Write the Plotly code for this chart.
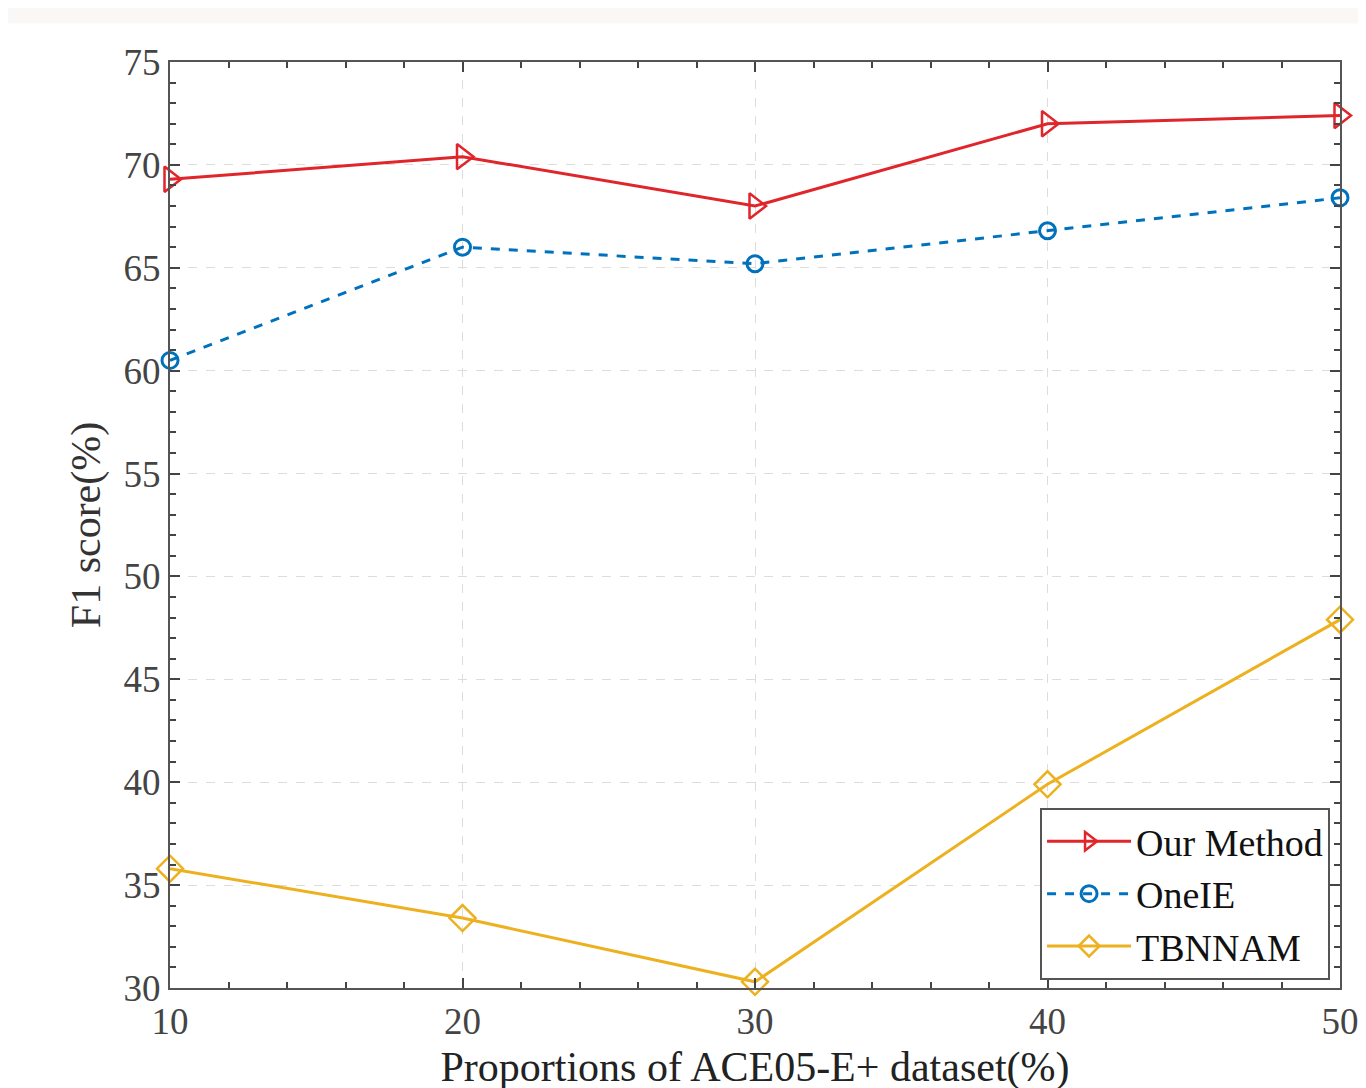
import plotly.graph_objects as go

proportions = [10, 20, 30, 40, 50]
our_method = [69.3, 70.4, 68.0, 72.0, 72.4]
oneie = [60.5, 66.0, 65.2, 66.8, 68.4]
tbnnam = [35.8, 33.4, 30.3, 39.9, 47.9]

x_ticks = [10, 20, 30, 40, 50]
y_ticks = [30, 35, 40, 45, 50, 55, 60, 65, 70, 75]

FONT = "Liberation Serif"

fig = go.Figure()
fig.add_trace(go.Scatter(
    x=proportions, y=our_method, name="Our Method", mode="lines+markers",
    line=dict(color="#E0252B", width=3),
    marker=dict(symbol="triangle-right-open", size=22, color="#E0252B", line=dict(width=2.5)),
    cliponaxis=False))
fig.add_trace(go.Scatter(
    x=proportions, y=oneie, name="OneIE", mode="lines+markers",
    line=dict(color="#0072BD", width=3, dash="dash"),
    marker=dict(symbol="circle-open", size=16, color="#0072BD", line=dict(width=3)),
    cliponaxis=False))
fig.add_trace(go.Scatter(
    x=proportions, y=tbnnam, name="TBNNAM", mode="lines+markers",
    line=dict(color="#EDB120", width=3),
    marker=dict(symbol="diamond-open", size=20, color="#EDB120", line=dict(width=2.5)),
    cliponaxis=False))

fig.add_shape(type="rect", xref="paper", yref="paper", x0=-0.2, x1=1.1, y0=1.0415, y1=1.1,
              fillcolor="#FAF7F7", line=dict(width=0), layer="below")

axis_common = dict(
    showline=True, linecolor="#555555", linewidth=2, mirror="ticks",
    ticks="inside", ticklen=10, tickwidth=1.5, tickcolor="#444444",
    showgrid=True, gridcolor="#DDDDDD", griddash="dash", gridwidth=1,
    zeroline=False,
    tickfont=dict(family=FONT, size=37, color="#444444"),
)

fig.update_xaxes(range=[10, 50], tickvals=x_ticks, **axis_common,
                 minor=dict(dtick=2, ticks="inside", ticklen=6, tickcolor="#444444", showgrid=False),
                 title=dict(text="Proportions of ACE05-E+ dataset(%)", font=dict(family=FONT, size=42, color="#222222"), standoff=10))
fig.update_yaxes(range=[30, 75], tickvals=y_ticks, **axis_common,
                 minor=dict(dtick=1, ticks="inside", ticklen=6, tickcolor="#444444", showgrid=False),
                 title=dict(text="F1 score(%)", font=dict(family=FONT, size=42, color="#333333"), standoff=10))

fig.update_layout(
    width=1366, height=1088,
    margin=dict(l=162, r=34, t=54, b=108),
    paper_bgcolor="white", plot_bgcolor="white",
    showlegend=True,
    legend=dict(x=0.9915, y=0.0086, xanchor="right", yanchor="bottom",
                bgcolor="white", bordercolor="#555555", borderwidth=2,
                font=dict(family=FONT, size=38, color="#111111"),
                itemwidth=84, tracegroupgap=0),
)

fig.write_html("out.html")
